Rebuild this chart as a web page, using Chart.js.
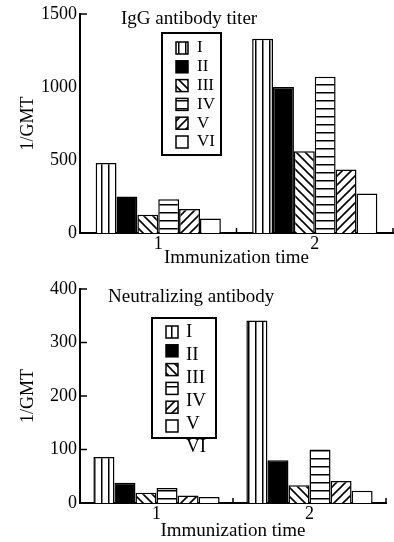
<!DOCTYPE html>
<html>
<head>
<meta charset="utf-8">
<script src="https://cdn.jsdelivr.net/npm/chart.js@4.4.1/dist/chart.umd.min.js"></script>
<style>
  body { margin: 0; background: #fff; }
  .panel { position: absolute; left: 0; width: 394px; }
</style>
</head>
<body>
<div class="panel" style="top:0;height:270px"><canvas id="iggChart" width="394" height="270"></canvas></div>
<div class="panel" style="top:270px;height:272px"><canvas id="neutChart" width="394" height="272"></canvas></div>
<script>
// Data
const timeLabels = ['1', '2'];
const groupNames = ['I', 'II', 'III', 'IV', 'V', 'VI'];
const groupPatterns = ['vertical', 'solid', 'back', 'horizontal', 'forward', 'empty'];

// IgG antibody titer (1/GMT), one value per group
const iggTime1 = [480, 250, 125, 232, 164, 100];
const iggTime2 = [1330, 1000, 560, 1070, 435, 270];
const iggTicks = [0, 500, 1000, 1500];

// Neutralizing antibody (1/GMT)
const neutTime1 = [86, 38, 19, 28, 14, 11];
const neutTime2 = [341, 80, 33, 100, 41, 23];
const neutTicks = [0, 100, 200, 300, 400];

const FONT = 'Liberation Serif, Times New Roman, serif';

// Hatch fills built on a small offscreen canvas
function makePattern(type) {
    if (type === 'solid') return '#000';
    if (type === 'empty') return '#fff';
    const c = document.createElement('canvas');
    const s = type === 'vertical' ? 7 : (type === 'horizontal' ? 8 : 9);
    c.width = s;
    c.height = s;
    const g = c.getContext('2d');
    g.fillStyle = '#fff';
    g.fillRect(0, 0, s, s);
    g.fillStyle = '#000';
    g.strokeStyle = '#000';
    g.lineWidth = 1.6;
    if (type === 'vertical') {
        g.fillRect(3, 0, 1.5, s);
    } else if (type === 'horizontal') {
        g.fillRect(0, 4, s, 1.5);
    } else {
        g.beginPath();
        if (type === 'back') {
            g.moveTo(-1, -1); g.lineTo(s + 1, s + 1);
            g.moveTo(-1, s - 1); g.lineTo(1, s + 1);
            g.moveTo(s - 1, -1); g.lineTo(s + 1, 1);
        } else {
            g.moveTo(-1, s + 1); g.lineTo(s + 1, -1);
            g.moveTo(-1, 1); g.lineTo(1, -1);
            g.moveTo(s - 1, s + 1); g.lineTo(s + 1, s - 1);
        }
        g.stroke();
    }
    return g.createPattern(c, 'repeat');
}

function buildDatasets(time1, time2) {
    return groupNames.map((name, i) => ({
        label: name,
        data: [time1[i], time2[i]],
        backgroundColor: makePattern(groupPatterns[i]),
        borderColor: '#000',
        borderWidth: 1.5,
        borderSkipped: 'bottom'
    }));
}

// Text written inside the plot area
const panelTitle = {
    id: 'panelTitle',
    afterDraw(chart, args, opts) {
        const ctx = chart.ctx;
        ctx.save();
        ctx.font = opts.size + 'px ' + FONT;
        ctx.fillStyle = '#000';
        ctx.textBaseline = 'alphabetic';
        ctx.fillText(opts.text, opts.x, opts.y);
        ctx.restore();
    }
};

// Legend drawn as a framed box inside the plot
const boxLegend = {
    id: 'boxLegend',
    afterDraw(chart, args, opts) {
        const ctx = chart.ctx;
        ctx.save();
        ctx.strokeStyle = '#000';
        ctx.lineWidth = 2;
        ctx.fillStyle = '#fff';
        ctx.fillRect(opts.box[0], opts.box[1], opts.box[2], opts.box[3]);
        ctx.strokeRect(opts.box[0], opts.box[1], opts.box[2], opts.box[3]);
        ctx.font = opts.size + 'px ' + FONT;
        ctx.textBaseline = 'middle';
        chart.data.datasets.forEach((ds, i) => {
            const sy = opts.swatchY + i * opts.swatchStep;
            ctx.fillStyle = ds.backgroundColor;
            ctx.fillRect(opts.swatchX, sy - 6, 12, 12);
            ctx.lineWidth = 1.5;
            ctx.strokeRect(opts.swatchX, sy - 6, 12, 12);
            ctx.fillStyle = '#000';
            ctx.fillText(ds.label, opts.labelX, opts.labelY + i * opts.labelStep);
        });
        ctx.restore();
    }
};

// Short tick marks pointing into the plot
const innerTicks = {
    id: 'innerTicks',
    afterDraw(chart, args, opts) {
        const ctx = chart.ctx;
        const area = chart.chartArea;
        const x = chart.scales.x;
        const y = chart.scales.y;
        ctx.save();
        ctx.strokeStyle = '#000';
        ctx.lineWidth = 1.5;
        ctx.beginPath();
        opts.yValues.forEach(v => {
            const py = y.getPixelForValue(v);
            ctx.moveTo(area.left, py);
            ctx.lineTo(area.left + 7, py);
        });
        for (let i = 1; i <= timeLabels.length; i++) {
            const px = x.getPixelForValue(i - 0.5);
            ctx.moveTo(px, area.bottom);
            ctx.lineTo(px, area.bottom - 5);
        }
        ctx.stroke();
        ctx.restore();
    }
};

function makeChart(id, time1, time2, ticks, opts) {
    return new Chart(document.getElementById(id), {
        type: 'bar',
        data: {
            labels: timeLabels,
            datasets: buildDatasets(time1, time2)
        },
        plugins: [panelTitle, boxLegend, innerTicks],
        options: {
            responsive: false,
            animation: false,
            layout: { padding: { top: opts.padTop, right: opts.padRight, left: 0, bottom: 0 } },
            datasets: {
                bar: { categoryPercentage: opts.catPct, barPercentage: 1.0 }
            },
            plugins: {
                legend: { display: false },
                tooltip: { enabled: false },
                panelTitle: opts.title,
                boxLegend: opts.legend,
                innerTicks: { yValues: opts.stubs }
            },
            scales: {
                x: {
                    offset: true,
                    grid: { display: false, drawTicks: false },
                    border: { color: '#000', width: 2 },
                    ticks: { color: '#000', font: { family: FONT, size: 18 }, padding: 0 },
                    title: {
                        display: true,
                        text: 'Immunization time',
                        color: '#000',
                        font: { family: FONT, size: 19 },
                        padding: { top: 0, bottom: opts.xTitlePad }
                    },
                    afterFit: s => { s.height = opts.xHeight; }
                },
                y: {
                    min: ticks[0],
                    max: ticks[ticks.length - 1],
                    grid: { display: false, drawTicks: false },
                    border: { color: '#000', width: 2 },
                    ticks: {
                        stepSize: ticks[1] - ticks[0],
                        color: '#000',
                        font: { family: FONT, size: 18 },
                        padding: 3,
                        callback: v => String(v)
                    },
                    title: {
                        display: true,
                        text: '1/GMT',
                        color: '#000',
                        font: { family: FONT, size: 18 },
                        padding: { top: 17, bottom: 0 }
                    },
                    afterFit: s => { s.width = 80; }
                }
            }
        }
    });
}

makeChart('iggChart', iggTime1, iggTime2, iggTicks, {
    padTop: 14, padRight: 1, catPct: 0.8, xHeight: 37, xTitlePad: 1,
    stubs: [1500],
    title: { text: 'IgG antibody titer', x: 121, y: 24, size: 19 },
    legend: {
        box: [162, 33, 59, 122], size: 17,
        swatchX: 176, swatchY: 48, swatchStep: 18.8,
        labelX: 197, labelY: 48, labelStep: 18.8
    }
});

makeChart('neutChart', neutTime1, neutTime2, neutTicks, {
    padTop: 19, padRight: 8, catPct: 0.825, xHeight: 39, xTitlePad: 0,
    stubs: [100, 200, 300, 400],
    title: { text: 'Neutralizing antibody', x: 108, y: 32, size: 19 },
    legend: {
        box: [152, 48, 64, 120], size: 19,
        swatchX: 166, swatchY: 62, swatchStep: 18.8,
        labelX: 186, labelY: 62, labelStep: 23
    }
});
</script>
</body>
</html>
